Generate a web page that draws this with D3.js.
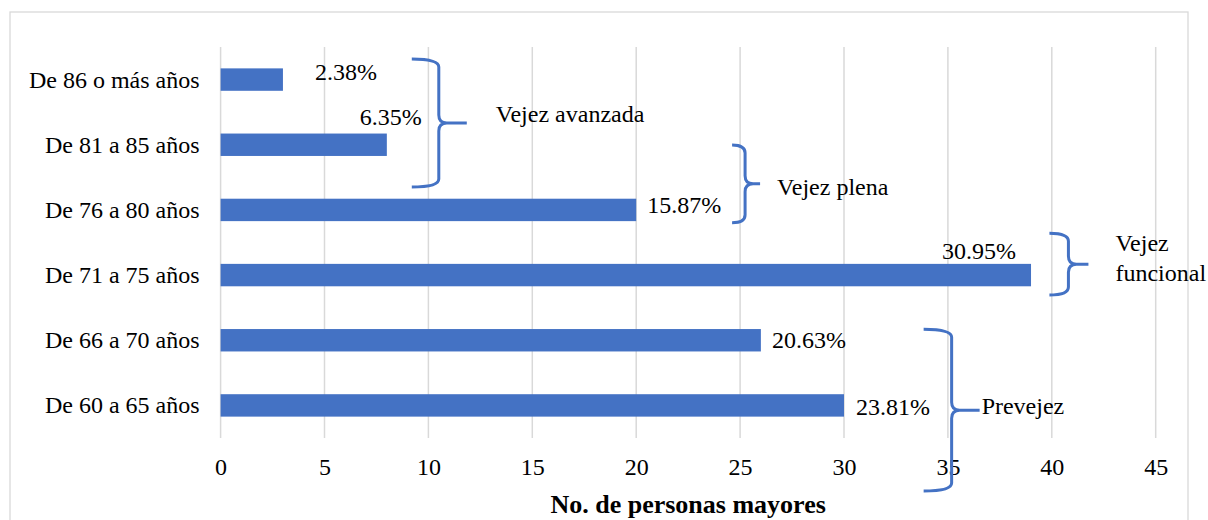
<!DOCTYPE html>
<html>
<head>
<meta charset="utf-8">
<script src="https://cdn.jsdelivr.net/npm/d3@7"></script>
<style>
  body { margin: 0; background: #fff; }
  text { font-family: "Liberation Serif", "Times New Roman", serif; fill: #000; }
</style>
</head>
<body>
<div id="chart"></div>
<script>
// data (Excel order, bottom to top)
var categories = ["De 60 a 65 años", "De 66 a 70 años", "De 71 a 75 años",
                  "De 76 a 80 años", "De 81 a 85 años", "De 86 o más años"];
var counts = [30, 26, 39, 20, 8, 3];
var percentLabels = ["23.81%", "20.63%", "30.95%", "15.87%", "6.35%", "2.38%"];
var xTicks = [0, 5, 10, 15, 20, 25, 30, 35, 40, 45];

// bracket groups: label lines, x of the bracket spine (in axis units), span in band units from top
var groupNames = [["Vejez avanzada"], ["Vejez plena"], ["Vejez", "funcional"], ["Prevejez"]];
var groupX = [10.5, 25.24, 40.8, 35.18];
var groupSpan = [[0.184, 2.148], [1.504, 2.696], [2.859, 3.805], [4.332, 6.813]];

// hand placed offsets (same as the original annotations)
var groupArm = [[27, 28], [13, 15], [19, 20], [28, 28]];
var groupText = [[29, -9], [17, 3], [27, -21], [2, -4]];
var labelOffsets = [[12, 2, "start"], [11, 0, "start"], [-15, -24, "end"],
                    [11, -5, "start"], [-27, -28, "start"], [32, -8, "start"]];

var width = 1208, height = 520;
var plotLeft = 220.6, plotRight = 1155.7, plotTop = 47, plotBottom = 438;
var blue = "#4472C4";
var fs = 24;

var svg = d3.select("#chart").append("svg")
    .attr("width", width).attr("height", height);

svg.append("rect").attr("x", 10).attr("y", 12)
    .attr("width", 1178).attr("height", 540)
    .attr("fill", "#fff").attr("stroke", "#d9d9d9").attr("stroke-width", 1.3);

var x = d3.scaleLinear().domain([0, 45]).range([plotLeft, plotRight]);
var y = d3.scaleBand().domain(categories.slice().reverse()).range([plotTop, plotBottom]).padding(0);
var yPos = d3.scaleLinear().domain([0, 6]).range([plotTop, plotBottom]);
var barH = y.bandwidth() * 0.344;

// gridlines
svg.append("g").selectAll("line").data(xTicks).enter().append("line")
    .attr("x1", function (d) { return x(d); })
    .attr("x2", function (d) { return x(d); })
    .attr("y1", plotTop).attr("y2", plotBottom)
    .attr("stroke", "#d9d9d9").attr("stroke-width", 1.5);

// x axis
var xAxis = d3.axisBottom(x).tickValues(xTicks).tickSize(0).tickPadding(0);
var gx = svg.append("g").attr("transform", "translate(0," + plotBottom + ")").call(xAxis);
gx.select(".domain").remove();
gx.selectAll("text").attr("y", 37).attr("dy", 0)
    .style("font-size", fs + "px").style("font-family", "Liberation Serif");

// y axis
var yAxis = d3.axisLeft(y).tickSize(0).tickPadding(21);
var gy = svg.append("g").attr("transform", "translate(" + plotLeft + ",0)").call(yAxis);
gy.select(".domain").remove();
gy.selectAll("text").attr("dy", "0.33em")
    .style("font-size", fs + "px").style("font-family", "Liberation Serif");

// bars
svg.append("g").selectAll("rect").data(categories).enter().append("rect")
    .attr("x", x(0))
    .attr("y", function (d) { return y(d) + (y.bandwidth() - barH) / 2; })
    .attr("width", function (d, i) { return x(counts[i]) - x(0); })
    .attr("height", barH)
    .attr("fill", blue);

// value labels
svg.append("g").selectAll("text").data(categories).enter().append("text")
    .attr("x", function (d, i) { return x(counts[i]) + labelOffsets[i][0]; })
    .attr("y", function (d, i) { return y(d) + y.bandwidth() / 2 + labelOffsets[i][1]; })
    .attr("dy", "0.33em")
    .attr("text-anchor", function (d, i) { return labelOffsets[i][2]; })
    .style("font-size", fs + "px")
    .text(function (d, i) { return percentLabels[i]; });

// brackets
groupNames.forEach(function (name, i) {
    var xv = x(groupX[i]);
    var x0 = xv - groupArm[i][0];
    var xt = xv + groupArm[i][1];
    var t = yPos(groupSpan[i][0]), b = yPos(groupSpan[i][1]);
    var m = (t + b) / 2, r = 8;
    var p = "M" + x0 + "," + t +
        " Q" + xv + "," + t + " " + xv + "," + (t + r) +
        " L" + xv + "," + (m - r) +
        " Q" + xv + "," + m + " " + (xv + r) + "," + m +
        " L" + xt + "," + m +
        " M" + (xv + r) + "," + m +
        " Q" + xv + "," + m + " " + xv + "," + (m + r) +
        " L" + xv + "," + (b - r) +
        " Q" + xv + "," + b + " " + x0 + "," + b;
    svg.append("path").attr("d", p)
        .attr("fill", "none").attr("stroke", blue).attr("stroke-width", 3);
    var tx = svg.append("text")
        .attr("y", m + groupText[i][1])
        .style("font-size", fs + "px");
    name.forEach(function (line, k) {
        tx.append("tspan").attr("x", xt + groupText[i][0])
            .attr("dy", k === 0 ? "0.33em" : "30px").text(line);
    });
});

// axis title
svg.append("text")
    .attr("x", (plotLeft + plotRight) / 2).attr("y", 513)
    .attr("text-anchor", "middle")
    .style("font-size", "26px").style("font-weight", "bold")
    .text("No. de personas mayores");
</script>
</body>
</html>
